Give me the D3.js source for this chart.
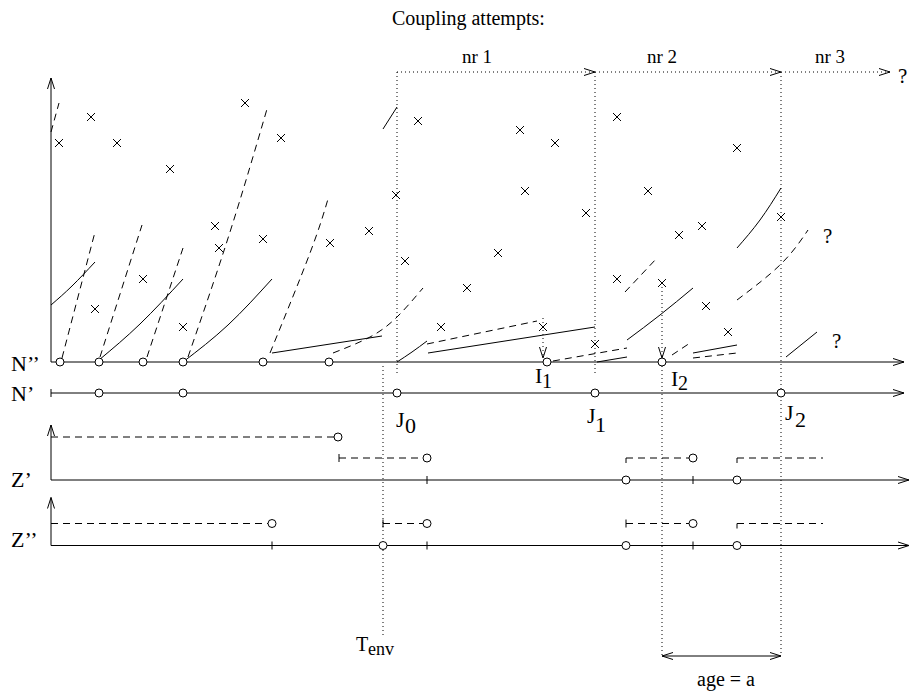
<!DOCTYPE html>
<html>
<head>
<meta charset="utf-8">
<script src="https://cdn.jsdelivr.net/npm/d3@7"></script>
<style>
body { margin: 0; background: #fff; }
text { font-family: "Liberation Serif", "Times New Roman", serif; fill: #000; }
</style>
</head>
<body>
<div id="chart"></div>
<script>
// values: time along x, height above the N'' axis for the top panel
var crosses = [
  [59, 219], [91, 245], [117, 219], [170, 193], [245, 259], [281, 224], [215, 136], [219, 114],
  [263, 123], [143, 83], [95, 53], [183, 35],
  [418, 241], [520, 232], [555, 219], [396, 167], [525, 171], [586, 149], [369, 131], [330, 119],
  [405, 101], [498, 109], [467, 74], [441, 35], [543, 35], [595, 18],
  [617, 245], [737, 214], [648, 171], [702, 136], [679, 127], [781, 145], [617, 83], [662, 79],
  [706, 56], [728, 30]
];
var birthsN2 = [60, 99, 143, 183, 263, 329];
var couplingTimes = [397, 595, 781];          // J0, J1, J2
var hitTimes = [547, 662];                   // I1, I2
var hitFrom = [[543, 44], [662, 79]];        // dotted drops onto I1, I2
var tEnv = 383;
var pointsN1 = [99, 183, 397, 595, 781];
var dashedPaths = [
  [[51, 230], [59, 259]],
  [[62, 4], [95, 130]],
  [[100, 5], [142, 137]],
  [[147, 5], [183, 114]],
  [[188, 5], [230, 130], [267, 253]],
  [[270, 9], [310, 109], [328, 163]],
  [[333, 9], [370, 25], [397, 45], [423, 74]],
  [[427, 18], [537, 41]],
  [[553, 1], [627, 14]],
  [[625, 70], [657, 104]],
  [[672, 7], [690, 19]],
  [[693, 4], [737, 9]],
  [[737, 62], [781, 98], [808, 132]]
];
var solidPaths = [
  [[51, 57], [72, 76], [95, 100]],
  [[99, 2], [140, 38], [183, 83]],
  [[183, 0], [228, 37], [272, 83]],
  [[272, 9], [382, 26]],
  [[383, 233], [397, 255]],
  [[397, 0], [412, 10], [427, 21]],
  [[428, 9], [595, 35]],
  [[597, 0], [627, 5]],
  [[627, 22], [660, 47], [693, 74]],
  [[693, 9], [737, 17]],
  [[737, 114], [760, 142], [781, 174]],
  [[786, 5], [817, 30]]
];
var questionMarks = [[823, 122], [832, 17]];
var attemptLabels = ["nr 1", "nr 2", "nr 3"];
var attemptLabelTimes = [462, 647, 815];
var attemptEnd = 890;

// Z' and Z'': [start, end, level, start mark, end mark]
var zPrimeSegs = [[51, 338, 43, "none", "circle"], [339, 427, 22, "tick", "circle"],
                  [626, 693, 22, "down", "circle"], [737, 823, 22, "down", "none"]];
var zPrimeCircles = [626, 737];
var zPrimeTicks = [427, 693];
var zDoubleSegs = [[51, 272, 22, "none", "circle"], [383, 427, 22, "tick", "circle"],
                   [626, 693, 22, "tick", "circle"], [737, 823, 22, "down", "none"]];
var zDoubleCircles = [383, 626, 737];
var zDoubleTicks = [272, 427, 693];
var ageSpan = [662, 781];

var width = 920, height = 697;
var x = d3.scaleLinear().domain([0, 920]).range([0, 920]);
var y = d3.scaleLinear().domain([0, 284]).range([362, 78]);
var yN1 = 393, yZ1 = 480, yZ2 = 545.5;
var zy1 = d3.scaleLinear().domain([0, 55]).range([yZ1, yZ1 - 55]);
var zy2 = d3.scaleLinear().domain([0, 48]).range([yZ2, yZ2 - 48]);
var x0 = 51, xEnd = 904;

var svg = d3.select('#chart').append('svg').attr('width', width).attr('height', height);
var g = svg.append('g').attr('fill', 'none').attr('stroke', '#000').attr('stroke-width', 1);

function seg(x1, y1, x2, y2, dash) {
  var l = g.append('line').attr('x1', x1).attr('y1', y1).attr('x2', x2).attr('y2', y2);
  if (dash) l.attr('stroke-dasharray', dash);
  return l;
}
function head(px, py, dir) {
  var L = 11, W = 3.5, d;
  if (dir == 'r') d = [[px - L, py - W], [px, py], [px - L, py + W]];
  if (dir == 'l') d = [[px + L, py - W], [px, py], [px + L, py + W]];
  if (dir == 'u') d = [[px - W, py + L], [px, py], [px + W, py + L]];
  if (dir == 'd') d = [[px - W, py - L], [px, py], [px + W, py - L]];
  g.append('path').attr('d', d3.line()(d));
}
function circ(cx, cy) {
  g.append('circle').attr('cx', cx).attr('cy', cy).attr('r', 4).attr('fill', '#fff');
}
var DOT = '1,3', DASH = '7,5';

// axes
seg(x0, y(0), xEnd, y(0)); head(xEnd, y(0), 'r');
seg(x0, y(0), x0, y(284)); head(x0, y(284), 'u');
seg(x0, yN1, xEnd, yN1); head(xEnd, yN1, 'r'); seg(x0, yN1 - 4, x0, yN1 + 4);
seg(x0, yZ1, xEnd + 5, yZ1); head(xEnd + 5, yZ1, 'r');
seg(x0, zy1(0), x0, zy1(55)); head(x0, zy1(55), 'u');
seg(x0, yZ2, xEnd + 5, yZ2); head(xEnd + 5, yZ2, 'r');
seg(x0, zy2(0), x0, zy2(48)); head(x0, zy2(48), 'u');

// dotted guides
var topY = 72;
couplingTimes.forEach(function(t, i) {
  seg(x(t), topY, x(t), i == 2 ? 655 : 375, DOT);
});
seg(x(tEnv), 366, x(tEnv), 637, DOT);
seg(x(hitTimes[1]), 366, x(hitTimes[1]), 657, DOT);
var stops = couplingTimes.slice(1).concat([attemptEnd]);
couplingTimes.forEach(function(t, i) {
  seg(x(t), topY, x(stops[i]), topY, DOT);
  head(x(stops[i]), topY, 'r');
});
hitFrom.forEach(function(p) {
  seg(x(p[0]), y(p[1]), x(p[0]), y(4), DOT);
  head(x(p[0]), y(4), 'd');
});

// curves
var line = d3.line().x(function(d) { return x(d[0]); }).y(function(d) { return y(d[1]); }).curve(d3.curveNatural);
dashedPaths.forEach(function(p) { g.append('path').attr('d', line(p)).attr('stroke-dasharray', DASH); });
solidPaths.forEach(function(p) { g.append('path').attr('d', line(p)); });

// crosses
crosses.forEach(function(c) {
  var cx = x(c[0]), cy = y(c[1]), s = 4;
  seg(cx - s, cy - s, cx + s, cy + s);
  seg(cx - s, cy + s, cx + s, cy - s);
});

// circles on N'' and N'
birthsN2.concat(hitTimes).forEach(function(t) { circ(x(t), y(0)); });
pointsN1.forEach(function(t) { circ(x(t), yN1); });

// Z rows
function zRow(segs, circles, ticks, zs, axisY) {
  segs.forEach(function(s) {
    var ly = zs(s[2]);
    seg(x(s[0]), ly, x(s[1]) - (s[4] == 'circle' ? 4 : 0), ly, DASH);
    if (s[3] == 'tick') seg(x(s[0]), ly - 4, x(s[0]), ly + 4);
    if (s[3] == 'down') seg(x(s[0]), ly, x(s[0]), ly + 5);
    if (s[4] == 'circle') circ(x(s[1]), ly);
  });
  ticks.forEach(function(t) { seg(x(t), axisY - 4, x(t), axisY + 4); });
  circles.forEach(function(t) { circ(x(t), axisY); });
}
zRow(zPrimeSegs, zPrimeCircles, zPrimeTicks, zy1, yZ1);
zRow(zDoubleSegs, zDoubleCircles, zDoubleTicks, zy2, yZ2);

// age arrow
seg(x(ageSpan[0]), 656, x(ageSpan[1]), 656);
head(x(ageSpan[0]), 656, 'l'); head(x(ageSpan[1]), 656, 'r');

// text
var t = svg.append('g');
function label(px, py, str, size) {
  return t.append('text').attr('x', px).attr('y', py).attr('font-size', size).text(str);
}
label(392, 25, 'Coupling attempts:', 20);
attemptLabels.forEach(function(s, i) { label(x(attemptLabelTimes[i]), 63, s, 19); });
label(898, 83, '?', 21);
questionMarks.forEach(function(q) { label(x(q[0]), y(q[1]) + 3, '?', 21); });
label(11, 371, 'N\u2019\u2019', 22);
label(11, 401, 'N\u2019', 22);
label(11, 487, 'Z\u2019', 22);
label(11, 547, 'Z\u2019\u2019', 22);

function sub(px, py, main, s, dx, dy, size, subSize) {
  var tx = t.append('text').attr('x', px).attr('y', py).attr('font-size', size);
  tx.append('tspan').text(main);
  tx.append('tspan').attr('x', px + dx).attr('y', py + dy).attr('font-size', subSize).text(s);
}
sub(396, 427, 'J', '0', 9, 6, 22, 22);
sub(587, 423, 'J', '1', 8, 9, 22, 22);
sub(785, 420, 'J', '2', 10, 7, 22, 22);
sub(535, 383, 'I', '1', 7, 5, 22, 20);
sub(671, 386, 'I', '2', 7, 4, 22, 20);
sub(356, 651, 'T', 'env', 12, 4, 20, 18);
label(697, 686, 'age = a', 20);
</script>
</body>
</html>
